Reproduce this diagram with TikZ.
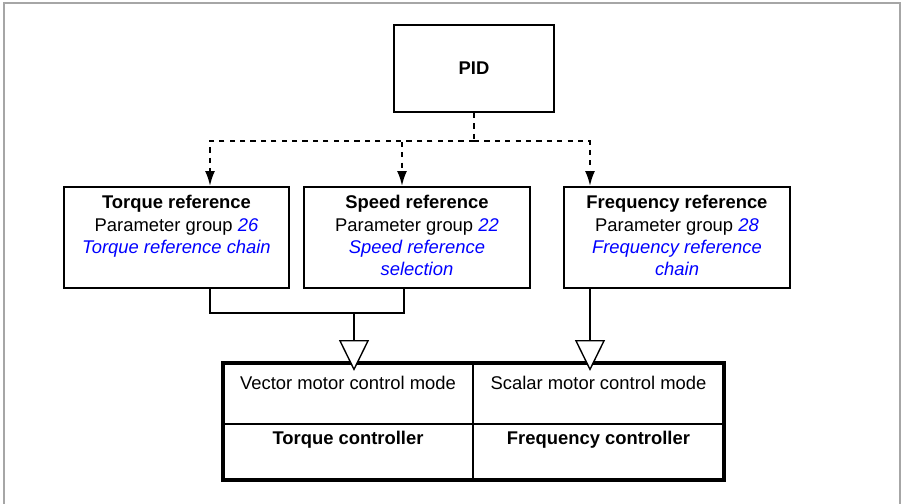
\documentclass[tikz,border=0pt]{standalone}
\usepackage{fontspec}
\setmainfont{Liberation Sans}
\usepackage{xcolor}
\usetikzlibrary{positioning,arrows.meta,fit}

\newcommand{\lnk}[1]{\textcolor{blue}{\itshape #1}}

\begin{document}
\begin{tikzpicture}[
  font=\fontsize{9.2}{11.1}\selectfont,
  blk/.style={draw, line width=1pt, minimum width=80pt, minimum height=43.5pt,
              inner sep=0pt},
  refbox/.style={draw, line width=1pt, minimum width=112.75pt,
                 minimum height=50.5pt, inner sep=0pt},
  reftext/.style={align=center, inner sep=0pt},
  cell/.style={draw, line width=0.9pt, minimum width=125.25pt, inner sep=0pt,
               outer sep=0pt},
  grp/.style={draw, line width=2.2pt, inner sep=0pt},
  link/.style={line width=1pt},
  pidlink/.style={line width=1pt, dash pattern=on 2.6pt off 2.6pt},
  feed/.style={line width=1pt,
               -{Triangle[open, fill=white, length=15.5pt, width=15pt, line width=0.7pt]}},
  >={Latex[length=7.5pt, width=5pt]}
]
\useasboundingbox (0,0) rectangle (451pt,-252pt);
\draw[gray!70, line width=0.8pt] (2pt,-252pt) |- (450pt,-1.5pt) -- (450pt,-252pt);

% PID block
\node[blk] (pid) at (237pt,-34.25pt) {\textbf{PID}};

% Reference row
\node[refbox] (torque) at (88.25pt,-118.75pt) {};
\node[refbox, right=6.5pt of torque] (speed) {};
\node[refbox, right=16.25pt of speed] (freq) {};

\node[reftext, below=4.6pt of torque.north] (torquetxt)
  {\textbf{Torque reference}\\Parameter group \lnk{26}\\\lnk{Torque reference chain}};
\node[reftext, below=4.6pt of speed.north] (speedtxt)
  {\textbf{Speed reference}\\Parameter group \lnk{22}\\\lnk{Speed reference}\\\lnk{selection}};
\node[reftext, below=4.6pt of freq.north] (freqtxt)
  {\textbf{Frequency reference}\\Parameter group \lnk{28}\\\lnk{Frequency reference}\\\lnk{chain}};

% Controller table
\node[cell, minimum height=30.5pt] (vector) at (174pt,-196.75pt) {};
\node[cell, minimum height=30.5pt, right=0pt of vector] (scalar) {};
\node[cell, minimum height=28pt, below=0pt of vector] (tctrl) {};
\node[cell, minimum height=28pt, below=0pt of scalar] (fctrl) {};
\node[grp, fit=(vector)(fctrl)] (ctrl) {};

\node[inner sep=0pt, below=6.6pt of vector.north] (vectortxt) {Vector motor control mode};
\node[inner sep=0pt, below=6.6pt of scalar.north] (scalartxt) {Scalar motor control mode};
\node[inner sep=0pt, below=3.6pt of tctrl.north] (tctrltxt) {\textbf{Torque controller}};
\node[inner sep=0pt, below=3.6pt of fctrl.north] (fctrltxt) {\textbf{Frequency controller}};

% edges
\coordinate[below=14pt of pid.south] (fork);
\coordinate (join) at (177pt,-156.3pt);
\draw[pidlink] (pid.south) -- (fork);
\draw[pidlink, ->] (fork) -| ([xshift=16.75pt]torque.north);
\draw[pidlink, ->] (fork) -| ([xshift=-7.5pt]speed.north);
\draw[pidlink, ->] (fork) -| ([xshift=-43.5pt]freq.north);
\draw[link] ([xshift=16.75pt]torque.south) |- (join);
\draw[link] ([xshift=-6.5pt]speed.south) |- (join);
\draw[feed] (join) -- ([xshift=3pt, yshift=-4pt]vector.north);
\draw[feed] ([xshift=-43.5pt]freq.south) -- ([xshift=-4.25pt, yshift=-4pt]scalar.north);
\end{tikzpicture}
\end{document}
